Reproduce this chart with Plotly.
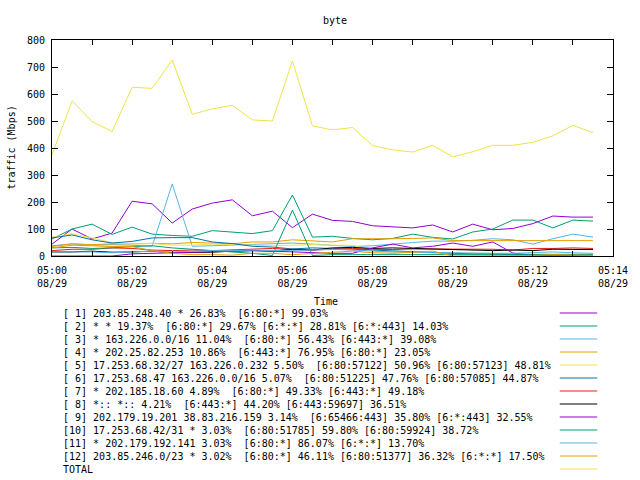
import plotly.graph_objects as go
from datetime import datetime, timedelta

times = [(datetime(2024, 8, 29, 5, 0, 0) + timedelta(seconds=30 * i)).strftime("%Y-%m-%d %H:%M:%S") for i in range(28)]

s1 = [44, 100, 63, 85, 203, 193, 122, 174, 196, 208, 149, 166, 105, 155, 132, 128, 112, 108, 104, 115, 89, 118, 97, 102, 120, 148, 144, 144]
s2 = [63, 100, 118, 80, 107, 81, 76, 73, 94, 89, 83, 94, 226, 70, 73, 65, 60, 65, 81, 69, 63, 89, 100, 133, 133, 104, 133, 129]
s3 = [38, 45, 40, 42, 40, 36, 267, 36, 38, 40, 42, 45, 48, 44, 40, 35, 38, 45, 50, 55, 55, 58, 64, 60, 44, 64, 81, 70]
s4 = [35, 45, 42, 45, 45, 47, 45, 50, 48, 45, 52, 52, 60, 55, 52, 64, 63, 64, 65, 67, 57, 57, 58, 58, 57, 57, 57, 57]
s5 = [70, 82, 67, 49, 45, 46, 40, 40, 44, 42, 40, 38, 40, 42, 40, 40, 20, 15, 14, 12, 12, 10, 10, 8, 8, 8, 8, 8]
s6 = [67, 78, 60, 48, 54, 67, 68, 68, 52, 46, 36, 33, 26, 30, 28, 25, 20, 18, 15, 12, 10, 8, 8, 5, 5, 4, 3, 2]
s7 = [20, 25, 25, 30, 28, 22, 20, 22, 20, 22, 26, 28, 24, 22, 25, 28, 25, 24, 26, 26, 25, 25, 25, 22, 28, 28, 30, 28]
s8 = [15, 15, 18, 14, 15, 18, 12, 12, 14, 18, 20, 18, 25, 22, 30, 32, 28, 30, 28, 25, 22, 20, 20, 22, 20, 25, 24, 24]
s9 = [0, 0, 0, 0, 8, 10, 12, 15, 18, 18, 20, 18, 15, 12, 10, 10, 30, 44, 30, 36, 48, 36, 52, 11, 2, 0, 0, 0]
s10 = [30, 32, 28, 30, 35, 38, 30, 25, 20, 15, 10, 2, 170, 2, 5, 5, 5, 5, 5, 5, 5, 5, 5, 5, 5, 5, 5, 5]
s11 = [15, 15, 15, 12, 15, 18, 15, 18, 20, 20, 22, 20, 20, 22, 25, 22, 18, 15, 15, 12, 12, 10, 10, 10, 12, 15, 12, 10]
s12 = [30, 40, 38, 35, 35, 20, 10, 5, 5, 3, 10, 10, 5, 10, 15, 18, 12, 10, 14, 18, 0, 0, 2, 2, 2, 5, 3, 2]
total = [375, 574, 498, 461, 625, 621, 726, 525, 545, 558, 504, 500, 722, 482, 467, 476, 409, 393, 385, 410, 367, 386, 410, 410, 421, 445, 484, 457]

labels = [
    "[ 1] 203.85.248.40 * 26.83%  [6:80:*] 99.03%",
    "[ 2] * * 19.37%  [6:80:*] 29.67% [6:*:*] 28.81% [6:*:443] 14.03%",
    "[ 3] * 163.226.0.0/16 11.04%  [6:80:*] 56.43% [6:443:*] 39.08%",
    "[ 4] * 202.25.82.253 10.86%  [6:443:*] 76.95% [6:80:*] 23.05%",
    "[ 5] 17.253.68.32/27 163.226.0.232 5.50%  [6:80:57122] 50.96% [6:80:57123] 48.81%",
    "[ 6] 17.253.68.47 163.226.0.0/16 5.07%  [6:80:51225] 47.76% [6:80:57085] 44.87%",
    "[ 7] * 202.185.18.60 4.89%  [6:80:*] 49.33% [6:443:*] 49.18%",
    "[ 8] *:: *:: 4.21%  [6:443:*] 44.20% [6:443:59697] 36.51%",
    "[ 9] 202.179.19.201 38.83.216.159 3.14%  [6:65466:443] 35.80% [6:*:443] 32.55%",
    "[10] 17.253.68.42/31 * 3.03%  [6:80:51785] 59.80% [6:80:59924] 38.72%",
    "[11] * 202.179.192.141 3.03%  [6:80:*] 86.07% [6:*:*] 13.70%",
    "[12] 203.85.246.0/23 * 3.02%  [6:80:*] 46.11% [6:80:51377] 36.32% [6:*:*] 17.50%",
    "TOTAL",
]
series = [s1, s2, s3, s4, s5, s6, s7, s8, s9, s10, s11, s12, total]
colors = ["#9400d3", "#009e73", "#56b4e9", "#e69f00", "#f0e442", "#0072b2", "#e51e10", "#000000",
          "#9400d3", "#009e73", "#56b4e9", "#e69f00", "#f0e442"]

tick_minutes = list(range(0, 15))
tickvals = [(datetime(2024, 8, 29, 5, 0) + timedelta(minutes=m)).strftime("%Y-%m-%d %H:%M:%S") for m in tick_minutes]
ticktext = [("05:%02d<br>08/29" % m) if m % 2 == 0 else "" for m in tick_minutes]

FONT = "DejaVu Sans Mono"
L, R, T, B = 52, 621, 40, 256
W, H = R - L, B - T

fig = go.Figure()
for ys, c, name in zip(series, colors, labels):
    fig.add_trace(go.Scatter(x=times, y=ys, mode="lines", line=dict(color=c, width=1), name=name, showlegend=False))

shapes = []
annotations = []
for i, (name, c) in enumerate(zip(labels, colors)):
    py = 313 + 13 * i
    yp = (B - py) / H
    annotations.append(dict(xref="paper", yref="paper", x=(61 - L) / W, y=yp, xanchor="left", yanchor="middle",
                            text=name.replace("  ", " \u00a0"), showarrow=False,
                            font=dict(family=FONT, size=10, color="black")))
    shapes.append(dict(type="line", xref="paper", yref="paper", x0=(567 - L) / W, x1=(605 - L) / W, y0=yp, y1=yp,
                       line=dict(color=c, width=1)))

annotations.append(dict(xref="paper", yref="paper", x=(330 - L) / W, y=(B - 301) / H, text="Time", showarrow=False,
                        xanchor="center", yanchor="middle", font=dict(family=FONT, size=10, color="black")))
annotations.append(dict(xref="paper", yref="paper", x=(10 - L) / W, y=(B - 148) / H, text="traffic (Mbps)",
                        showarrow=False, textangle=-90, xanchor="center", yanchor="middle",
                        font=dict(family=FONT, size=10, color="black")))

fig.update_layout(
    width=640, height=480,
    margin=dict(l=L, r=640 - R, t=T, b=480 - B),
    paper_bgcolor="white", plot_bgcolor="white",
    title=dict(text="byte", x=(335) / 640, xanchor="center", y=1 - 20 / 480, yanchor="middle",
               font=dict(family=FONT, size=10, color="black")),
    font=dict(family=FONT, size=10, color="black"),
    shapes=shapes, annotations=annotations,
    showlegend=False,
)
fig.update_xaxes(range=[tickvals[0], tickvals[-1]], tickmode="array", tickvals=tickvals, ticktext=ticktext,
                 ticks="inside", ticklen=5, tickcolor="black", showline=True, linecolor="black", linewidth=1,
                 mirror="allticks", showgrid=False, zeroline=False, tickfont=dict(family=FONT, size=10),
                 ticklabelstandoff=5)
fig.update_yaxes(range=[0, 800], tickmode="array", tickvals=list(range(0, 801, 100)),
                 ticks="inside", ticklen=6, tickcolor="black", showline=True, linecolor="black", linewidth=1,
                 mirror="allticks", showgrid=False, zeroline=False, tickfont=dict(family=FONT, size=10),
                 ticklabelstandoff=4)

fig.write_html("out.html")
